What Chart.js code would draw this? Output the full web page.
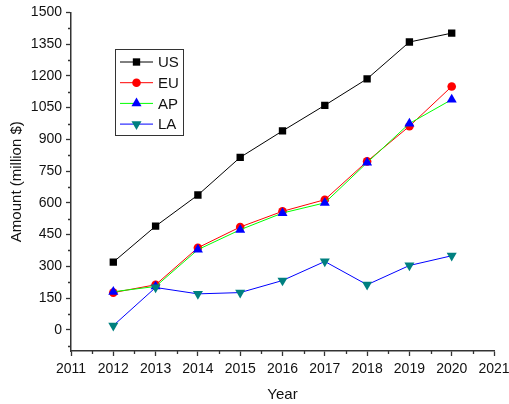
<!DOCTYPE html>
<html>
<head>
<meta charset="utf-8">
<script src="https://cdn.jsdelivr.net/npm/chart.js@4.4.0/dist/chart.umd.min.js"></script>
<style>
  html, body { margin: 0; padding: 0; background: #fff; }
  #wrap { width: 509px; height: 404px; }
</style>
</head>
<body>
<div id="wrap"><canvas id="c"></canvas></div>
<script>
// data
const years = [2012, 2013, 2014, 2015, 2016, 2017, 2018, 2019, 2020];
const us = [320, 490, 637, 815, 940, 1061, 1186, 1360, 1402];
const eu = [176, 213, 388, 486, 560, 615, 796, 962, 1150];
const ap = [180, 205, 379, 473, 552, 600, 790, 975, 1088];
const la = [20, 200, 170, 176, 233, 323, 213, 304, 350];

const yTicks = [0, 150, 300, 450, 600, 750, 900, 1050, 1200, 1350, 1500];
const xTicks = [2011, 2012, 2013, 2014, 2015, 2016, 2017, 2018, 2019, 2020, 2021];

const pts = arr => arr.map((v, i) => ({ x: years[i], y: v }));

const series = [
    { label: 'US', data: us, line: '#000000', fill: '#000000', style: 'rect', radius: 5.2, rotation: 0 },
    { label: 'EU', data: eu, line: '#ff0000', fill: '#ff0000', style: 'circle', radius: 4.3, rotation: 0 },
    { label: 'AP', data: ap, line: '#00ff00', fill: '#0000ff', style: 'triangle', radius: 5.8, rotation: 0 },
    { label: 'LA', data: la, line: '#0000ff', fill: '#008080', style: 'triangle', radius: 5.8, rotation: 180 },
];

const FONT = '"Liberation Sans", Arial, sans-serif';

// short minor ticks between the labelled ones
const minorTicks = {
    id: 'minorTicks',
    afterDraw(chart) {
        const ctx = chart.ctx;
        const xs = chart.scales.x, ys = chart.scales.y;
        ctx.save();
        ctx.strokeStyle = '#333';
        ctx.lineWidth = 1.3;
        ctx.beginPath();
        for (let v = -75; v < 1500; v += 150) {
            const py = Math.round(ys.getPixelForValue(v)) + 0.5;
            ctx.moveTo(xs.left - 3, py);
            ctx.lineTo(xs.left, py);
        }
        for (let v = 2011.5; v < 2021; v += 1) {
            const px = Math.round(xs.getPixelForValue(v)) + 0.5;
            ctx.moveTo(px, ys.bottom);
            ctx.lineTo(px, ys.bottom + 3);
        }
        ctx.stroke();
        ctx.restore();
    }
};

// boxed legend inside the plot
const boxLegend = {
    id: 'boxLegend',
    afterDatasetsDraw(chart) {
        const ctx = chart.ctx;
        const bx = 115.5, by = 49.5, bw = 68, bh = 86;
        ctx.save();
        ctx.fillStyle = '#fff';
        ctx.fillRect(bx, by, bw, bh);
        ctx.strokeStyle = '#333';
        ctx.lineWidth = 1;
        ctx.strokeRect(bx, by, bw, bh);
        ctx.font = '15px ' + FONT;
        ctx.textBaseline = 'middle';
        series.forEach((s, i) => {
            const y = 62 + i * 20.7;
            ctx.strokeStyle = s.line;
            ctx.lineWidth = 1;
            ctx.beginPath();
            ctx.moveTo(120, y);
            ctx.lineTo(153, y);
            ctx.stroke();
            ctx.fillStyle = s.fill;
            ctx.strokeStyle = s.fill;
            Chart.helpers.drawPoint(ctx, {
                pointStyle: s.style, radius: s.radius, rotation: s.rotation, borderWidth: 0
            }, 136.5, y);
            ctx.fillStyle = '#111';
            ctx.fillText(s.label, 158, y + 1);
        });
        ctx.restore();
    }
};

new Chart(document.getElementById('c'), {
    type: 'line',
    data: {
        datasets: series.map((s, i) => ({
            label: s.label,
            data: pts(s.data),
            borderColor: s.line,
            borderWidth: 1,
            backgroundColor: s.fill,
            pointBackgroundColor: s.fill,
            pointBorderColor: s.fill,
            pointBorderWidth: 0,
            pointStyle: s.style,
            pointRadius: s.radius,
            pointRotation: s.rotation,
            tension: 0,
            order: series.length - i
        }))
    },
    options: {
        responsive: true,
        maintainAspectRatio: false,
        animation: false,
        events: [],
        layout: { padding: { top: 12, right: 0, left: 0, bottom: 0 } },
        plugins: { legend: { display: false }, tooltip: { enabled: false } },
        scales: {
            x: {
                type: 'linear',
                min: 2011, max: 2021,
                afterBuildTicks: s => { s.ticks = xTicks.map(v => ({ value: v })); },
                afterFit: s => { s.height = 53; s.paddingRight = 15; s.paddingLeft = 0; },
                border: { color: '#333', width: 1.5 },
                grid: { drawOnChartArea: false, drawTicks: true, tickLength: 5, color: '#333', tickWidth: 1.3 },
                ticks: {
                    color: '#111', padding: 5,
                    font: { family: FONT, size: 14 },
                    callback: v => String(v), maxRotation: 0, autoSkip: false
                },
                title: {
                    display: true, text: 'Year', color: '#111',
                    font: { family: FONT, size: 15 },
                    padding: { top: 0, bottom: 0 }
                }
            },
            y: {
                min: -100, max: 1500,
                afterBuildTicks: s => { s.ticks = yTicks.map(v => ({ value: v })); },
                afterFit: s => { s.width = 71; },
                border: { color: '#333', width: 1.5 },
                grid: { drawOnChartArea: false, drawTicks: true, tickLength: 5, color: '#333', tickWidth: 1.3 },
                ticks: {
                    color: '#111', padding: 4,
                    font: { family: FONT, size: 14 },
                    callback: v => String(v), autoSkip: false
                },
                title: {
                    display: true, text: 'Amount (million $)', color: '#111',
                    font: { family: FONT, size: 15 },
                    padding: { top: 8, bottom: 0 }
                }
            }
        }
    },
    plugins: [minorTicks, boxLegend]
});
</script>
</body>
</html>
